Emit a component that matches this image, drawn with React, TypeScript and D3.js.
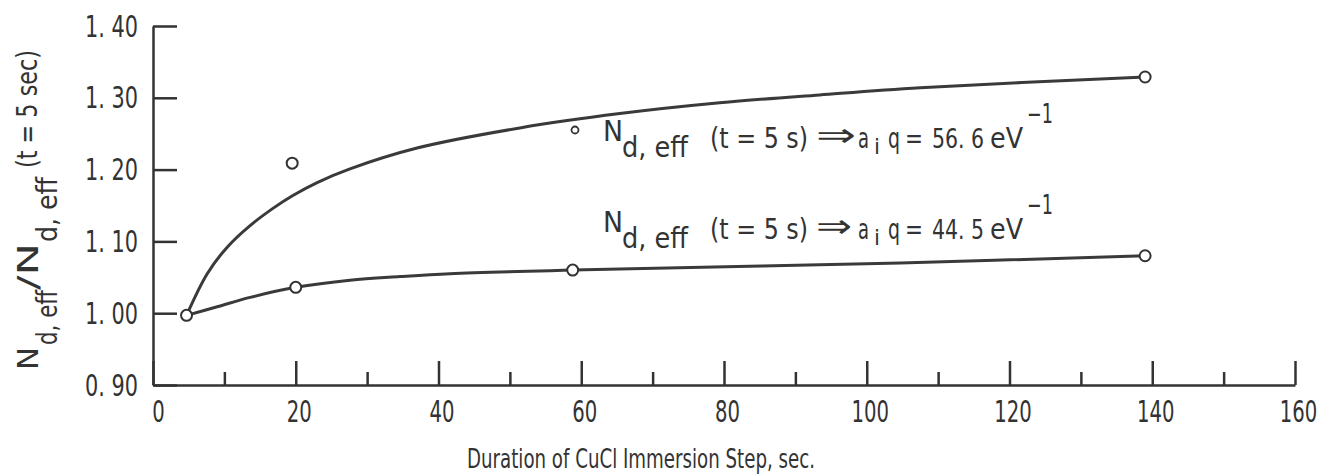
import React, { useEffect, useRef } from "react";
import * as d3 from "d3";

// axis ticks
const xTicks = [0, 20, 40, 60, 80, 100, 120, 140, 160];
const xMinorTicks = [10, 30, 50, 70, 90, 110, 130, 150];
const yTicks = [0.9, 1.0, 1.1, 1.2, 1.3, 1.4];
const yTickLabels = ["0. 90", "1. 00", "1. 10", "1. 20", "1. 30", "1. 40"];

// measured points (open circles), t in sec
const lowerT = [4.7, 20, 58.8, 139];
const lowerV = [0.997, 1.036, 1.06, 1.08];
const upperT = [19.5, 139];
const upperV = [1.209, 1.329];

// faired curves as drawn on the figure
const upperCurveT = [4.7, 7.6, 10.4, 13.6, 16.8, 19.6, 23, 27.6, 37, 51.4, 65.4, 79.4, 93.4, 107.5, 139];
const upperCurveV = [0.997, 1.055, 1.092, 1.122, 1.146, 1.164, 1.182, 1.201, 1.23, 1.258, 1.278, 1.293, 1.304, 1.314, 1.329];
const lowerCurveT = [4.7, 9, 13.6, 20, 27.6, 34.6, 41.6, 58.8, 104.7, 139];
const lowerCurveV = [0.997, 1.009, 1.022, 1.036, 1.046, 1.051, 1.055, 1.06, 1.07, 1.08];

// annotations
const aqValues = ["56. 6", "44. 5"];
const arrowWidths = [40, 36];

const W = 1331;
const H = 476;
const INK = "#333";
const FONT = "'DejaVu Sans Condensed', 'DejaVu Sans', sans-serif";

function Chart() {
  const svgRef = useRef<SVGSVGElement>(null);

  useEffect(() => {
    const svg = d3.select(svgRef.current);
    const x = d3.scaleLinear().domain([0, 160]).range([153, 1295]);
    const y = d3.scaleLinear().domain([0.9, 1.4]).range([385, 26]);

    // x axis
    const gx = svg.select<SVGGElement>(".x-axis");
    gx.attr("transform", "translate(0,385)")
      .call(d3.axisBottom(x).tickValues(xTicks).tickSize(-24).tickSizeOuter(0).tickFormat(d3.format("d")));
    gx.selectAll("text")
      .attr("y", 37)
      .attr("dy", 0)
      .attr("dx", (d: any) => (d === 0 ? 5 : 3))
      .attr("font-size", 30)
      .attr("font-family", FONT)
      .attr("fill", INK)
      .attr("textLength", (d: any) => String(d).length * 12.5)
      .attr("lengthAdjust", "spacingAndGlyphs");

    const gxm = svg.select<SVGGElement>(".x-minor");
    gxm.attr("transform", "translate(0,385)")
      .call(d3.axisBottom(x).tickValues(xMinorTicks).tickSize(-13).tickFormat(() => ""));
    gxm.select(".domain").remove();

    // y axis
    const gy = svg.select<SVGGElement>(".y-axis");
    gy.attr("transform", "translate(153,0)")
      .call(
        d3.axisLeft(y).tickValues(yTicks).tickSize(-24).tickSizeOuter(0).tickPadding(15)
          .tickFormat((_d, i) => yTickLabels[i])
      );
    gy.selectAll("text")
      .attr("dy", 10)
      .attr("font-size", 30)
      .attr("font-family", FONT)
      .attr("fill", INK)
      .attr("textLength", 53)
      .attr("lengthAdjust", "spacingAndGlyphs");

    svg.selectAll(".domain, .tick line").attr("stroke", INK).attr("stroke-width", 2.5);

    // curves
    const line = d3.line<[number, number]>()
      .x((d) => x(d[0]))
      .y((d) => y(d[1]))
      .curve(d3.curveCatmullRom.alpha(0.5));
    const curves = [
      upperCurveT.map((t, i) => [t, upperCurveV[i]] as [number, number]),
      lowerCurveT.map((t, i) => [t, lowerCurveV[i]] as [number, number]),
    ];
    svg.select(".curves")
      .selectAll("path")
      .data(curves)
      .join("path")
      .attr("d", line)
      .attr("fill", "none")
      .attr("stroke", "#3a3a3a")
      .attr("stroke-width", 3);

    // points
    const pts = [
      ...lowerT.map((t, i) => [t, lowerV[i]]),
      ...upperT.map((t, i) => [t, upperV[i]]),
    ];
    svg.select(".points")
      .selectAll("circle")
      .data(pts)
      .join("circle")
      .attr("cx", (d) => x(d[0]))
      .attr("cy", (d) => y(d[1]))
      .attr("r", 5.5)
      .attr("fill", "#fff")
      .attr("stroke", INK)
      .attr("stroke-width", 2);
  }, []);

  const piece = (t: string, px: number, py: number, w: number, key: string, size = 29) => (
    <text key={key} x={px} y={py} fontSize={size} textLength={w} lengthAdjust="spacingAndGlyphs">
      {t}
    </text>
  );

  const annotation = (i: number) => {
    const b = 141 + i * 91;
    return (
      <g key={i}>
        {piece("N", 603, b, 20, "n")}
        {piece("d, eff", 622, b + 16, 66, "s")}
        {piece("(t = 5 s)", 710, b + 7, 98, "t")}
        {piece("\u21D2", 816, b + 5, arrowWidths[i], "ar", 32)}
        {piece("a", 858, b + 7, 11, "a")}
        {piece("i", 874, b + 13, 6, "i", 22)}
        {piece("q", 888, b + 7, 12, "q")}
        {piece("=", 905, b + 7, 18, "eq")}
        {piece(aqValues[i], 932, b + 7, 52, "v", 26)}
        {piece("eV", 990, b + 7, 33, "u")}
        {piece("\u22121", 1027, b - 18, 26, "e", 26)}
      </g>
    );
  };

  return (
    <svg
      ref={svgRef}
      width={W}
      height={H}
      style={{ position: "absolute", left: 0, top: 0, background: "#fff" }}
    >
      <g className="curves" />
      <g className="x-minor" />
      <g className="x-axis" />
      <g className="y-axis" />
      <g className="points" />
      <g fontFamily={FONT} fill={INK}>
        <circle cx={575} cy={130} r={3.5} fill="#fff" stroke={INK} strokeWidth={1.8} />
        {annotation(0)}
        {annotation(1)}
        <text x={467} y={468} fontSize={26} textLength={348} lengthAdjust="spacingAndGlyphs">
          Duration of CuCl Immersion Step, sec.
        </text>
        <g transform="rotate(-90)">
          {piece("N", -370, 38, 23, "y1")}
          {piece("d, eff", -345, 57, 55, "y2")}
          {piece("/N", -290, 38, 47, "y3")}
          {piece("d, eff", -242, 57, 65, "y4")}
          {piece("(t = 5 sec)", -168, 37, 118, "y5")}
        </g>
      </g>
    </svg>
  );
}

export default function App() {
  return <Chart />;
}
